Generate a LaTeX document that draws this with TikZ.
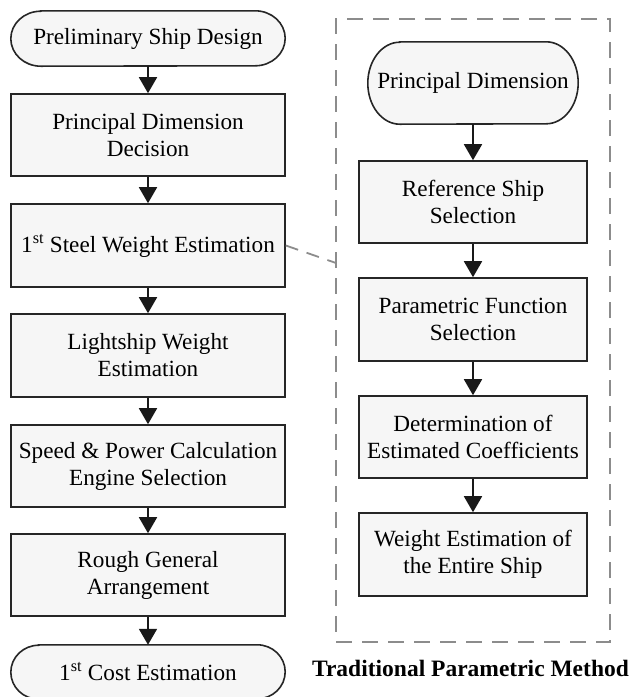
\documentclass[tikz,border=0pt]{standalone}
\usepackage{fontspec}
\setmainfont{Liberation Serif}
\usetikzlibrary{arrows.meta,backgrounds}
\newcommand\stadium[3]{%
  \draw[boxline] ([xshift=#2]#1.north west) -- ([xshift=-#2]#1.north east)
    arc[start angle=90,end angle=-90,x radius=#2,y radius=#3]
    -- ([xshift=#2]#1.south west)
    arc[start angle=270,end angle=90,x radius=#2,y radius=#3] -- cycle;}
\begin{document}
\begin{tikzpicture}[x=1pt,y=-1pt,
  boxline/.style={draw=black!85,line width=1.6pt,fill=gray!7},
  txt/.style={align=center,font=\fontsize{23.2}{27}\selectfont,inner sep=0pt},
  box/.style={txt,boxline},
  lbox/.style={box,minimum width=274pt},
  rbox/.style={box,minimum width=228pt},
  arr/.style={line width=1.8pt,draw=black!90,-{Triangle[width=18pt,length=16pt]}},
  grpline/.style={draw=gray!90,line width=1.8pt,dash pattern=on 16pt off 10pt},
]
\useasboundingbox (0,0) rectangle (633,697);

% dashed group frame
\node[grpline,minimum width=274pt,minimum height=623pt,inner sep=0pt] (grp) at (473,330.5) {};

% left column
\node[txt,minimum width=274pt,minimum height=55pt] (pre) at (148,38.5) {Preliminary Ship Design};
\node[lbox,minimum height=82pt] (pdd) at (148,135) {Principal Dimension\\Decision};
\node[lbox,minimum height=83pt] (sw) at (148,245.5) {1\textsuperscript{st} Steel Weight Estimation};
\node[lbox,minimum height=83pt] (lw) at (148,355.5) {Lightship Weight\\Estimation};
\node[lbox,minimum height=82pt] (sp) at (148,466) {Speed \& Power Calculation\\Engine Selection};
\node[lbox,minimum height=82pt] (rg) at (148,575) {Rough General\\Arrangement};
\node[txt,minimum width=274pt,minimum height=54pt] (cost) at (148,672) {1\textsuperscript{st} Cost Estimation};

% right column
\node[txt,minimum width=210pt,minimum height=82pt] (rpd) at (473,83) {Principal Dimension};
\node[rbox,minimum height=82pt] (ref) at (473,202) {Reference Ship\\Selection};
\node[rbox,minimum height=83pt] (par) at (473,319.5) {Parametric Function\\Selection};
\node[rbox,minimum height=82pt] (det) at (473,437) {Determination of\\Estimated Coefficients};
\node[rbox,minimum height=83pt] (wt) at (473,554.5) {Weight Estimation of\\the Entire Ship};

\begin{scope}[on background layer]
  \stadium{pre}{30pt}{27.5pt}
  \stadium{cost}{28pt}{27pt}
  \stadium{rpd}{32pt}{41pt}
\end{scope}

% caption
\node[font=\bfseries\fontsize{23.5}{27}\selectfont,inner sep=0pt] (cap) at (470.5,668) {Traditional Parametric Method};

% arrows
\draw[arr] (pre.south) -- (pdd.north);
\draw[arr] (pdd.south) -- (sw.north);
\draw[arr] (sw.south) -- (lw.north);
\draw[arr] (lw.south) -- (sp.north);
\draw[arr] (sp.south) -- (rg.north);
\draw[arr] (rg.south) -- (cost.north);
\draw[arr] (rpd.south) -- (ref.north);
\draw[arr] (ref.south) -- (par.north);
\draw[arr] (par.south) -- (det.north);
\draw[arr] (det.south) -- (wt.north);

% link to group
\coordinate (gl) at (336,263);
\draw[grpline,dash pattern=on 13pt off 9pt] (sw.east) -- (gl);
\end{tikzpicture}
\end{document}
